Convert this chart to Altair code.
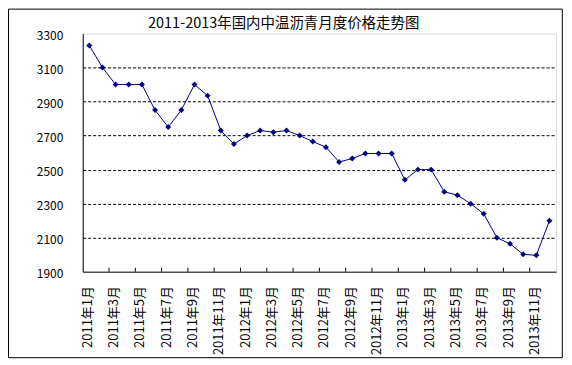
import json
import altair as alt
import pandas as pd

# ---- data ----
title_text = "2011-2013年国内中温沥青月度价格走势图"
years = [2011, 2012, 2013]
months = list(range(1, 13))
month_labels = [f"{y}年{m}月" for y in years for m in months]
prices = [
    3230, 3100, 3000, 3000, 3000, 2850, 2750, 2850, 3000, 2935, 2730, 2650,
    2700, 2730, 2720, 2730, 2700, 2665, 2632, 2545, 2565, 2595, 2595, 2595,
    2440, 2500, 2500, 2370, 2350, 2300, 2240, 2100, 2064, 2002, 1996, 2200,
]
y_ticks = list(range(1900, 3301, 200))

df = pd.DataFrame({"idx": list(range(len(prices))), "label": month_labels, "price": prices})
n = len(prices)
tick_df = pd.DataFrame({"pos": [i + 1.5 for i in range(0, n - 2, 2)]})
one = pd.DataFrame({"t": [title_text]})

W, H = 475, 239
FONT = "Noto Sans CJK SC"
NAVY = "#000080"

xscale = alt.Scale(domain=[-0.5, n - 0.5], nice=False, zero=False)
yscale = alt.Scale(domain=[1900, 3300], nice=False, zero=False)

label_expr = json.dumps(month_labels, ensure_ascii=False) + "[datum.value]"
x_values = list(range(0, n, 2))

x_axis = alt.Axis(
    values=x_values, tickCount=len(x_values), labelExpr=label_expr, labelAngle=270,
    labelAlign="right", labelBaseline="middle", ticks=False, tickSize=0,
    domainColor="black", domainWidth=1, grid=False, labelPadding=14,
    labelFont=FONT, labelFontSize=13, labelColor="black", title=None,
    labelOverlap=False, labelOffset=-2, labelFlush=False,
)
y_axis = alt.Axis(
    values=y_ticks, tickCount=len(y_ticks), format="d", ticks=False, tickSize=0,
    domainColor="black", domainWidth=1,
    grid=True, gridDash=[3, 2], gridColor="black", gridWidth=1,
    gridOpacity=alt.condition("datum.value == 3300 || datum.value == 1900", alt.value(0), alt.value(1)),
    labelPadding=20, labelFont=FONT, labelFontSize=12, labelColor="black",
    title=None, labelOffset=1.5, labelFlush=False, labelOverlap=False,
)

base = alt.Chart(df)
line = base.mark_line(color=NAVY, strokeWidth=1).encode(
    x=alt.X("idx:Q", scale=xscale, axis=x_axis),
    y=alt.Y("price:Q", scale=yscale, axis=y_axis),
)
points = base.mark_point(shape="diamond", filled=True, color=NAVY, size=36, opacity=1).encode(
    x=alt.X("idx:Q", scale=xscale, axis=x_axis),
    y=alt.Y("price:Q", scale=yscale, axis=y_axis),
)
ticks = alt.Chart(tick_df).mark_rule(color="black", strokeWidth=1).encode(
    x=alt.X("pos:Q", scale=xscale, axis=x_axis),
    y=alt.value(H),
    y2=alt.value(H - 4),
)
frame = alt.Chart(one).mark_rect(fill="transparent", stroke="black", strokeWidth=1).encode(
    x=alt.value(-74.5), x2=alt.value(481.3), y=alt.value(-24.5), y2=alt.value(325.3),
)
title = alt.Chart(one).mark_text(
    font=FONT, fontSize=14.5, color="black", align="center", baseline="middle"
).encode(x=alt.value(201.7), y=alt.value(-9.5), text="t:N")

chart = alt.layer(line, points, ticks, frame, title).properties(
    width=W, height=H,
    autosize=alt.AutoSizeParams(type="none"),
    padding={"left": 75, "top": 25, "right": 8, "bottom": 88},
).configure_view(stroke="#808080", strokeWidth=1).configure(background="white")

chart.save("out.html", embed_options={"renderer": "svg", "actions": False})
